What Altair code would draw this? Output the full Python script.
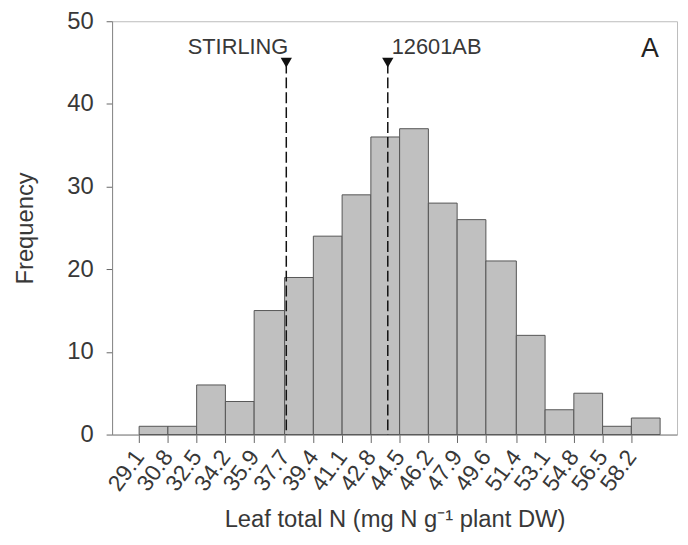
import altair as alt
import pandas as pd

# Bin edges (tick labels are the left edges of each bin)
edges = [29.1, 30.8, 32.5, 34.2, 35.9, 37.7, 39.4, 41.1, 42.8, 44.5,
         46.2, 47.9, 49.6, 51.4, 53.1, 54.8, 56.5, 58.2, 59.9]
counts = [1, 1, 6, 4, 15, 19, 24, 29, 36, 37, 28, 26, 21, 12, 3, 5, 1, 2]
tick_values = edges[:-1]

marker_names = ["STIRLING", "12601AB"]
marker_pos = [37.8, 43.8]
marker_top = [45, 45]
label_y = [46.9, 46.9]

panel_label = ["A"]
panel_x = [59.3]
panel_y = [46.6]

FONT = "Liberation Sans"
TEXT = "#383838"

bars_df = pd.DataFrame({"start": edges[:-1], "end": edges[1:], "count": counts})
mk_df = pd.DataFrame({"name": marker_names, "pos": marker_pos,
                      "top": marker_top, "ly": label_y})
pl_df = pd.DataFrame({"t": panel_label, "x": panel_x, "y": panel_y})

xscale = alt.Scale(domain=[27.5, 60.9], nice=False, zero=False)
yscale = alt.Scale(domain=[0, 50], nice=False)

xaxis = alt.Axis(values=tick_values, tickCount=40, format=".1f", labelAngle=-54,
                 labelAlign="right", labelBaseline="middle", labelOverlap=False,
                 labelFontSize=23, labelColor=TEXT, labelPadding=10,
                 tickSize=8, tickColor="#666", domainColor="#888",
                 grid=False, title="Leaf total N (mg N g\u207b\u00b9 plant DW)",
                 titleFontSize=24, titleFontWeight="normal", titleColor=TEXT,
                 titlePadding=12, labelFont=FONT, titleFont=FONT)
yaxis = alt.Axis(values=[0, 10, 20, 30, 40, 50], tickCount=10, tickSize=6,
                 labelFontSize=24, labelColor=TEXT, labelPadding=13,
                 tickColor="#666", domainColor="#888", grid=False,
                 title="Frequency", titleFontSize=24, titleFontWeight="normal",
                 titleColor=TEXT, titlePadding=30, labelFont=FONT, titleFont=FONT)

bars = alt.Chart(bars_df).mark_rect(fill="#c0c0c0", stroke="#555", strokeWidth=1).encode(
    x=alt.X("start:Q", scale=xscale, axis=xaxis),
    x2="end:Q",
    y=alt.Y("count:Q", scale=yscale, axis=yaxis),
    y2=alt.datum(0),
)

rules = alt.Chart(mk_df).mark_rule(color="#111", strokeWidth=1.5, strokeDash=[11, 4]).encode(
    x=alt.X("pos:Q", scale=xscale),
    y=alt.Y("top:Q", scale=yscale),
    y2=alt.datum(0),
)

tris = alt.Chart(mk_df).mark_point(shape="triangle-down", filled=True, size=130,
                                   color="#111", opacity=1).encode(
    x=alt.X("pos:Q", scale=xscale),
    y=alt.Y("top:Q", scale=yscale),
)

lab_left = alt.Chart(mk_df).transform_filter(alt.datum.name == "STIRLING").mark_text(
    align="right", baseline="middle", font=FONT, fontSize=22, color=TEXT, dx=2
).encode(x=alt.X("pos:Q", scale=xscale), y=alt.Y("ly:Q", scale=yscale), text="name:N")

lab_right = alt.Chart(mk_df).transform_filter(alt.datum.name == "12601AB").mark_text(
    align="left", baseline="middle", font=FONT, fontSize=22, color=TEXT, dx=4
).encode(x=alt.X("pos:Q", scale=xscale), y=alt.Y("ly:Q", scale=yscale), text="name:N")

panel = alt.Chart(pl_df).mark_text(align="center", baseline="middle", font=FONT,
                                   fontSize=27, color="#222").encode(
    x=alt.X("x:Q", scale=xscale), y=alt.Y("y:Q", scale=yscale), text="t:N")

chart = alt.layer(bars, rules, tris, lab_left, lab_right, panel).properties(
    width=570, height=417,
    autosize=alt.AutoSizeParams(type="none"),
    padding={"left": 105, "top": 11, "right": 3, "bottom": 101},
    background="white",
).configure_view(stroke="#bbb", strokeWidth=1)

chart.save("out.html", embed_options={"renderer": "svg", "actions": False})
